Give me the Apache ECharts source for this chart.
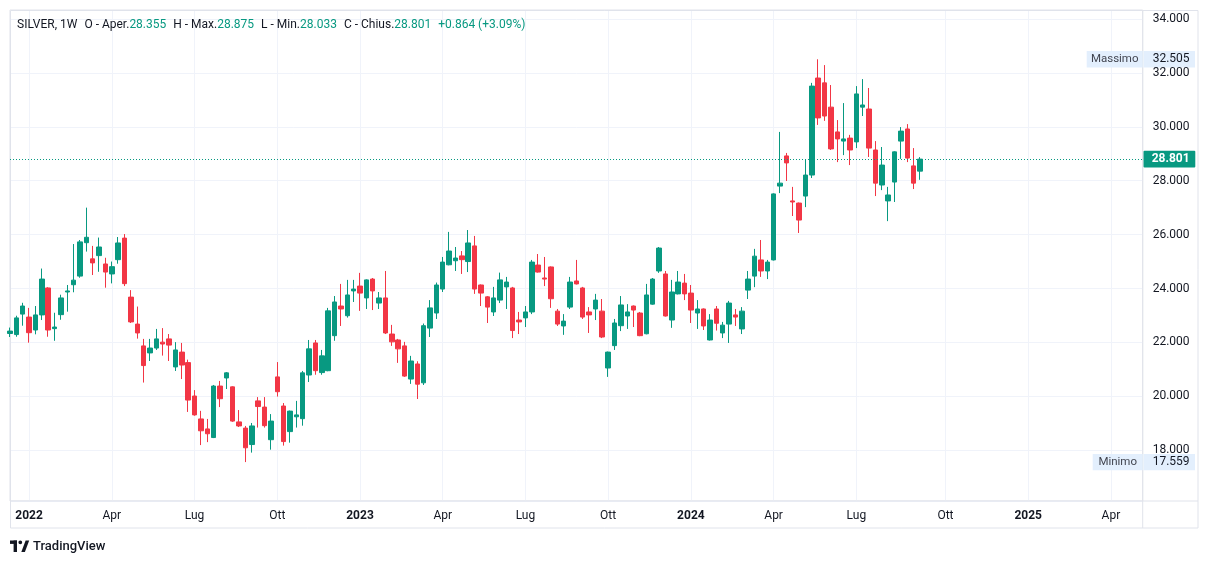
<!DOCTYPE html>
<html><head><meta charset="utf-8">
<script src="https://cdn.jsdelivr.net/npm/echarts@6/dist/echarts.min.js"></script>
<style>html,body{margin:0;padding:0;background:#fff}#c{width:1209px;height:564px}</style>
</head><body><div id="c"></div>
<script>
// ---- data ----
const firstWeek = [2021, 11, 13];   // Monday 13 Dec 2021 (year, monthIndex, day)
const weekCount = 179;               // weekly slots on the time scale (incl. empty future)
const opens = [22.33,22.29,23.05,22.94,22.46,23.02,24.02,22.51,23.03,23.87,24.14,24.46,25.70,25.10,25.22,24.91,24.54,25.07,25.87,23.68,
22.68,21.87,21.61,21.79,22.01,22.13,21.09,21.64,21.25,20.01,19.16,18.79,18.47,20.38,20.68,20.35,19.05,18.82,18.21,19.83,
19.60,18.39,20.72,19.64,18.69,19.24,19.17,20.79,21.98,20.88,20.95,22.25,23.35,22.99,23.91,24.09,23.65,24.35,23.46,23.65,
22.31,22.09,21.87,20.64,21.20,20.50,22.53,23.09,23.98,24.88,25.03,25.21,25.00,25.58,24.13,23.69,23.13,23.57,24.06,24.02,
22.83,22.91,23.13,24.87,24.39,24.80,23.16,22.61,23.31,24.28,24.02,23.13,23.24,23.16,21.05,21.88,22.62,22.98,23.35,23.09,
22.32,23.42,24.65,24.54,22.83,23.80,24.20,23.83,23.09,23.24,22.09,23.24,22.35,22.68,23.02,22.50,23.94,24.46,25.06,24.65,
25.06,27.80,28.92,27.25,27.17,27.43,28.21,31.81,31.63,30.73,29.81,29.47,29.58,29.44,30.73,30.66,29.14,27.84,27.25,27.95,
29.47,29.92,28.55,28.355];
const closes = [22.42,22.91,23.35,22.36,23.02,24.35,22.46,22.57,23.65,23.91,24.31,25.73,25.90,24.95,25.54,24.61,24.81,25.69,24.18,22.76,
22.35,21.14,21.79,22.13,21.94,21.90,21.72,21.16,19.86,19.31,18.72,18.61,20.38,19.91,20.87,19.08,18.90,18.09,18.90,19.62,
18.91,19.08,20.17,18.32,19.45,19.31,20.87,21.76,20.95,21.50,23.17,23.50,23.24,23.76,23.98,23.83,24.32,23.91,23.65,22.35,
22.02,21.76,20.75,21.31,20.45,22.62,23.28,24.13,24.98,25.39,25.13,25.07,25.69,23.98,23.83,23.31,23.65,24.32,24.24,22.44,
22.76,23.13,24.98,24.61,24.35,23.62,22.68,22.79,24.24,24.17,22.94,23.02,23.57,22.20,21.64,22.72,23.39,23.13,23.20,22.25,
23.76,24.35,25.50,22.98,23.87,24.24,23.80,23.20,23.24,22.61,22.83,22.71,22.64,23.46,22.94,23.16,24.35,25.20,24.65,24.98,
27.51,27.91,28.66,27.21,26.54,28.21,31.51,30.33,30.40,29.18,29.55,29.55,29.14,31.22,30.81,29.21,27.91,28.58,27.47,29.07,
29.84,28.84,27.91,28.801];
const highs = [22.55,22.99,23.47,23.28,23.35,24.74,24.05,23.10,23.77,24.13,25.65,25.80,27.00,25.58,25.89,25.14,25.00,25.91,26.02,23.94,
23.33,22.13,22.13,22.50,22.53,22.31,22.01,21.98,21.36,20.23,19.46,19.16,20.42,20.57,20.90,20.37,19.49,18.90,19.01,19.97,
19.97,19.34,21.27,19.75,19.47,19.83,20.94,22.09,22.09,21.72,23.28,23.72,24.17,24.32,24.32,24.58,24.34,24.39,23.87,24.65,
22.65,22.13,22.02,21.50,21.30,22.70,23.57,24.22,25.17,26.10,25.54,25.39,26.17,25.95,24.15,23.72,24.06,24.59,24.43,24.06,
23.13,23.35,25.06,25.28,25.17,24.82,23.24,23.05,24.43,25.06,24.06,23.31,23.80,23.61,21.66,22.87,23.72,23.42,23.37,23.13,
24.17,24.39,25.54,24.65,24.32,24.65,24.54,24.13,23.57,23.26,23.05,23.35,22.76,23.54,23.24,23.31,24.65,25.47,25.80,25.06,
27.53,29.81,29.03,27.77,27.19,28.77,31.63,32.505,32.29,31.55,30.25,30.88,29.70,31.51,31.77,31.44,29.47,29.25,27.77,29.09,
29.99,30.10,29.21,28.875];
const lows = [22.20,22.21,22.62,21.99,22.30,22.83,22.21,22.06,22.84,23.14,23.86,24.40,25.37,24.50,24.62,24.03,24.19,24.92,24.09,22.72,
22.14,20.51,21.31,21.72,21.51,21.31,20.94,20.64,19.42,19.28,18.19,18.30,18.45,19.60,20.27,19.05,18.86,17.559,17.91,18.84,
18.84,18.02,19.99,18.17,18.28,18.84,18.91,20.53,20.80,20.80,20.93,22.06,22.61,22.92,23.50,23.17,23.24,23.20,23.24,22.31,
21.87,21.24,20.72,20.46,19.90,20.42,22.20,22.87,23.87,24.86,24.65,24.54,24.61,23.80,23.35,22.72,22.98,23.46,23.24,22.16,
22.31,22.57,23.05,24.59,24.09,23.28,22.61,22.28,23.24,24.15,22.87,22.35,22.83,22.16,20.72,21.72,22.42,22.50,22.57,22.23,
22.30,23.40,24.58,22.96,22.54,23.78,23.57,22.72,22.50,22.46,22.07,22.44,22.16,21.98,22.61,22.31,23.61,24.05,24.43,24.35,
25.04,27.54,27.99,26.69,26.06,27.02,28.10,30.07,30.22,29.14,28.69,28.95,28.58,29.21,30.40,28.88,27.43,27.65,26.50,27.21,
28.81,28.69,27.69,28.033];
const quarterNames = {3: 'Apr', 6: 'Lug', 9: 'Ott'};   // January shows the year
const yTickStep = 2;
const lastPrice = 28.801, maxPrice = 32.505, minPrice = 17.559;
const headerGroups = [
  [['SILVER, 1W', 'd']],
  [['O - Aper.', 'd'], ['28.355', 'g']],
  [['H - Max.', 'd'], ['28.875', 'g']],
  [['L - Min.', 'd'], ['28.033', 'g']],
  [['C - Chius.', 'd'], ['28.801', 'g']],
  [['+0.864 (+3.09%)', 'g']]
];

// ---- build ----
function pad(n){return (n<10?'0':'')+n;}
const weeks = [];
{
  const d = new Date(Date.UTC(firstWeek[0], firstWeek[1], firstWeek[2]));
  for (let i = 0; i < weekCount; i++) {
    weeks.push(d.getUTCFullYear()+'-'+pad(d.getUTCMonth()+1)+'-'+pad(d.getUTCDate()));
    d.setUTCDate(d.getUTCDate()+7);
  }
}
function isQuarterStart(v){
  const p = v.split('-'); const m = +p[1]-1, day = +p[2];
  return (m % 3 === 0) && day <= 7;
}
const candles = opens.map((o,i)=>[o, closes[i], lows[i], highs[i]]);
const UP = '#089981', DOWN = '#F23645', TXT = '#131722', GRIDC = '#f0f3fa', BORDER = '#e0e3eb';
const FONT = "Roboto, 'Noto Sans', sans-serif";

const chart = echarts.init(document.getElementById('c'), null, {renderer:'canvas'});
chart.setOption({
  animation: false,
  backgroundColor: '#fff',
  textStyle: {fontFamily: FONT},
  grid: {left: 10, right: 66.3, top: 10, bottom: 63, show: true, borderColor: BORDER, borderWidth: 1, containLabel: false},
  xAxis: {
    type: 'category', data: weeks, boundaryGap: false,
    axisLine: {show: false}, axisTick: {show: false},
    axisLabel: {
      interval: (i, v) => isQuarterStart(v),
      formatter: v => { const p = v.split('-'); const m = +p[1]-1; return m === 0 ? '{y|'+p[0]+'}' : quarterNames[m]; },
      color: TXT, fontSize: 12, margin: 9, fontFamily: FONT,
      rich: {y: {fontWeight: 'bold', fontSize: 12, color: TXT, fontFamily: FONT}}
    },
    splitLine: {show: true, interval: (i, v) => isQuarterStart(v), lineStyle: {color: GRIDC, width: 1}}
  },
  yAxis: {
    type: 'value', position: 'right', min: 16.115, max: 34.334,
    splitNumber: 9, minInterval: yTickStep, maxInterval: yTickStep,
    axisLine: {show: false}, axisTick: {show: false},
    axisLabel: {
      margin: 10, color: TXT, fontSize: 12, fontFamily: FONT,
      formatter: v => Math.abs(v/yTickStep - Math.round(v/yTickStep)) < 1e-6 ? v.toFixed(3) : ''
    },
    splitLine: {show: true, lineStyle: {color: GRIDC, width: 1}}
  },
  series: [{
    type: 'candlestick', data: candles, barWidth: 5,
    itemStyle: {color: UP, color0: DOWN, borderColor: UP, borderColor0: DOWN, borderWidth: 1},
    markLine: {
      silent: true, symbol: ['none','none'], label: {show: false},
      lineStyle: {color: UP, type: [1, 2], width: 1},
      data: [{yAxis: lastPrice}]
    }
  }]
});

const yLast = chart.convertToPixel({yAxisIndex: 0}, lastPrice);
const yMax = chart.convertToPixel({yAxisIndex: 0}, maxPrice);
const yMin = chart.convertToPixel({yAxisIndex: 0}, minPrice);
const axisX = 1142.7;

const g = [];
// frame
g.push({type:'rect', silent:true, shape:{x:10.5, y:10.5, width:1187.5, height:517.5}, style:{fill:'none', stroke:BORDER, lineWidth:1}});
g.push({type:'line', silent:true, shape:{x1:axisX, y1:10, x2:axisX, y2:528}, style:{stroke:BORDER, lineWidth:1}});
g.push({type:'line', silent:true, shape:{x1:10, y1:501, x2:1198, y2:501}, style:{stroke:BORDER, lineWidth:1}});
// header (one rich text, flows left to right)
const headerText = headerGroups.map(grp => grp.map(([t, s]) => '{'+s+'|'+t+'}').join('')).join('{sp|}');
g.push({type:'text', silent:true, style:{
  text: headerText, x: 17, y: 25, align: 'left', verticalAlign: 'middle',
  font: '12px '+FONT, fill: TXT,
  rich: {
    d: {fill: TXT, font: '12px '+FONT},
    g: {fill: UP, font: '12px '+FONT},
    sp: {width: 7}
  }
}});
// value tags
function tag(y, name, nameW, value){
  if (name) {
    g.push({type:'rect', silent:true, shape:{x:axisX-nameW, y:y-8.2, width:nameW, height:16.4}, style:{fill:'#e3effd'}});
    g.push({type:'text', silent:true, style:{text:name, x:axisX-nameW/2, y:y, fill:'#434651', font:'11.5px '+FONT, align:'center', verticalAlign:'middle'}});
  }
  g.push({type:'rect', silent:true, shape:{x:axisX+0.8, y:y-8.2, width:51.5, height:16.4}, style:{fill:'#e3effd'}});
  g.push({type:'text', silent:true, style:{text:value, x:axisX+10, y:y, fill:TXT, font:'12px '+FONT, align:'left', verticalAlign:'middle'}});
}
tag(yMax, 'Massimo', 56, maxPrice.toFixed(3));
tag(yMin, 'Minimo', 50, minPrice.toFixed(3));
g.push({type:'rect', silent:true, shape:{x:axisX+0.8, y:yLast-8.4, width:51.8, height:16.8, r:1}, style:{fill:UP}});
g.push({type:'text', silent:true, style:{text:lastPrice.toFixed(3), x:axisX+9, y:yLast, fill:'#fff', font:'bold 12px '+FONT, align:'left', verticalAlign:'middle'}});
// logo
g.push({type:'rect', silent:true, shape:{x:10, y:540.5, width:7, height:3.4}, style:{fill:TXT}});
g.push({type:'rect', silent:true, shape:{x:13.6, y:540.5, width:3.4, height:11.5}, style:{fill:TXT}});
g.push({type:'circle', silent:true, shape:{cx:20.3, cy:542.3, r:1.9}, style:{fill:TXT}});
g.push({type:'polygon', silent:true, shape:{points:[[21.3,552],[25.6,540.5],[29.2,540.5],[24.9,552]]}, style:{fill:TXT}});
g.push({type:'text', silent:true, style:{text:'TradingView', x:33, y:546.5, fill:TXT, font:'500 13px '+FONT, align:'left', verticalAlign:'middle'}});

chart.setOption({graphic: g});
</script>
</body></html>
